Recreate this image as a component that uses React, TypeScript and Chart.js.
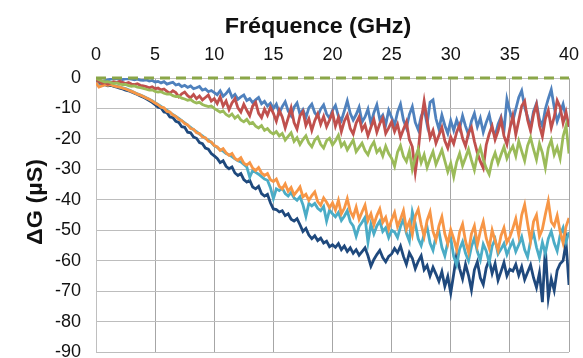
import React, { useEffect, useRef } from "react";
import { Chart, registerables } from "chart.js";

Chart.register(...registerables);

// Frequency sampling grid (GHz): 0 to 40 in 0.25 GHz steps
const FREQ_STEP = 0.25;

const xTicks = [0, 5, 10, 15, 20, 25, 30, 35, 40];
const yTicks = [0, -10, -20, -30, -40, -50, -60, -70, -80, -90];

const xTitle = "Fréquence (GHz)";
const yTitle = "ΔG (µS)";

const blueSeries = [
  0, -0.6, -1.1, -0.9, -0.6, -0.4, -0.3, -0.2, -0.4, -0.5, -0.3, -0.2, -0.4, -0.6, -0.4, -0.7, -0.8,
  -0.6, -1, -0.8, -1.3, -1.1, -1.6, -1.2, -2, -1.7, -1.4, -2.3, -2, -2.8, -2.4, -3.1, -2.6, -3.5, -3.2, -2.8, -4, -3.6, -4.5, -4.1, -4.8,
  -5.5, -4.2, -6, -5.1, -3.8, -6.3, -5.4, -7, -6.2, -5.6, -7.4, -6.8, -8.1, -7.2, -6.4, -8.5, -7.7, -9.2, -8.3, -10,
  -8.6, -11.5, -9.4, -7.8, -10.8, -12.4, -9.6, -8.2, -11.9, -10.4, -13, -9.8, -8.6, -11.4, -12.6, -10.2, -8.8, -11.8, -13.2, -10.6,
  -9, -12.5, -14, -10.8, -7.5, -11.6, -13.8, -12, -9.6, -14.5, -12.8, -10.2, -15, -11.4, -8.8, -13.6, -12.2, -15.4, -10.6, -13,
  -15.5, -11.2, -8.6, -13.8, -16.4, -12, -9.4, -14.6, -17, -12.6, -10.2, -15.2, -8, -7.2, -13.4, -16.8, -12.2, -15.6, -18.2, -14,
  -17.2, -13.8, -16.6, -12.4, -15.8, -18.6, -14.2, -11.6, -16, -13.2, -17.8, -14.6, -12, -16.8, -19, -15.2, -12.8, -17.4, -7, -11,
  -14, -10.2, -6.4, -4.2, -9.6, -12.8, -16.4, -11, -8.4, -13.6, -15.8, -10.2, -6.8, -3.8, -9.6, -14.2, -11.4, -8.6, -13, -16,
];

const redSeries = [
  -0.5, -1.2, -1.8, -1.5, -2, -1.6, -1.2, -1.5, -1.1, -1.4, -1.8, -1.5, -2, -2.2, -1.9, -2.4, -2.6,
  -2.8, -3.2, -2.9, -3.5, -3.3, -3.9, -3.6, -4.4, -5, -4.2, -4.8, -6.2, -5.2, -4.6, -5.8, -6.5, -5.4, -6.8, -5.9, -7.2, -6.4, -5.6, -7.6, -6.8,
  -8.4, -6.2, -9.2, -7.6, -10.4, -8.2, -6.8, -9.8, -11.2, -8.6, -10.6, -12.4, -9.2, -8, -11.6, -13, -10.2, -12.2, -9.6, -11.6,
  -14.2, -10.6, -12.8, -16.4, -13.2, -9.8, -14.6, -16.8, -12.4, -11, -15.6, -13.4, -17.2, -14, -11.8, -15.2, -12.6, -16, -13.8, -11.4,
  -15.8, -13, -17.6, -14.2, -12.2, -16.6, -18.4, -14.8, -12.8, -17, -15.4, -19, -16.2, -13.6, -17.8, -15, -13.2, -18.2, -16.4, -14.4,
  -17.6, -15.2, -19.4, -16.8, -14.4, -20.2, -22.6, -31, -24, -14.2, -7.6, -13.8, -19.6, -17.2, -21.4, -18.8, -16.2, -20.6, -23, -19.4,
  -21.6, -17.8, -15.4, -19.8, -22.4, -18, -16.2, -20.8, -24.6, -27.4, -29.6, -22, -18.4, -15.8, -20.2, -17.4, -13.6, -19, -21.8, -16.6,
  -12.4, -18.6, -14, -9.2, -7.6, -13.8, -17.4, -12, -8.8, -15.6, -19.2, -13.4, -10.6, -16.4, -12.8, -7.4, -9.6, -14.8, -11.2, -16,
];

const greenSeries = [
  -0.2, -0.6, -1, -1.3, -1.2, -1.5, -1.8, -1.6, -2, -2.2, -2.1, -2.5, -2.7, -2.6, -3, -3.2, -3.4,
  -3.7, -4, -3.9, -4.4, -4.6, -4.5, -5, -5.3, -5.2, -5.8, -6.1, -6, -6.6, -6.9, -7.3, -7.1, -7.8, -8.2, -8, -8.7, -9.1, -9.4, -9.2, -10,
  -10.6, -11.2, -10.8, -12, -12.6, -11.8, -13.2, -12.4, -13.8, -14.4, -13.6, -15, -14.6, -15.8, -16.4, -15.6, -17.2, -16.6, -17.8, -18.4,
  -17.6, -19, -18.2, -20.4, -19.2, -18, -20.8, -19.6, -21.8, -20.2, -19, -21.4, -22.6, -20.4, -19.4, -21.8, -23, -20.6, -19.8, -22,
  -20.6, -18.8, -22.4, -21.2, -23.6, -22, -20.4, -24.2, -22.8, -21.4, -23.8, -25.2, -22.6, -21, -24.4, -23.2, -25.6, -22.4, -24.8, -26.4,
  -29, -24.4, -22.2, -25.8, -27.4, -24, -30, -26.2, -23.4, -27.8, -25.2, -29.4, -26.6, -24.2, -28.4, -26, -23.6, -27.2, -30.8, -28,
  -32.4, -27.6, -24.8, -28.8, -26.2, -23.4, -27, -30.2, -25.4, -22.8, -26.8, -29.6, -31.6, -27.2, -24.6, -28, -25.2, -22.6, -26.4, -24.2,
  -22.4, -25.6, -20.8, -24, -27.2, -22.2, -19.6, -23.4, -26.8, -21.6, -24.6, -29.4, -23, -20.4, -25.2, -22.8, -26.4, -19.2, -15.6, -24.8,
];

const orangeSeries = [
  -1.5, -3, -2.6, -2.2, -2.4, -2.2, -2.6, -2.8, -3, -3.3, -3.6, -4, -4.4, -4.8, -5.3, -5.6, -6.1, -6.6, -7, -7.6, -8.2,
  -8.8, -9.6, -9.8, -11, -11.2, -12.2, -12.6, -13.6, -14, -15, -15.4, -16.6, -16.8, -18, -18.2, -19.4, -19.6, -20.8, -21, -22.2,
  -22.6, -23.8, -23.2, -24.6, -25.4, -24.8, -26.4, -27, -26.2, -28, -28.6, -27.8, -29.6, -30.4, -29.4, -31.2, -32, -31.4, -33.4, -34,
  -33.2, -35.6, -36.4, -34.8, -37.2, -36, -38.4, -37.2, -35.8, -39, -38.2, -40.2, -38.6, -37.4, -40.6, -41.8, -39.4, -40.8, -42.6, -41,
  -43.4, -40.2, -44.6, -42.8, -39.6, -43.8, -45.6, -42.4, -46.4, -44, -41.8, -46.8, -44.6, -48.2, -45.2, -43, -47.4, -45.8, -49.6, -46.6,
  -44.2, -48.8, -46.4, -43.6, -49.6, -47.2, -51.4, -45.4, -43.2, -48.2, -52, -46.8, -44, -50.4, -53.2, -48.6, -45.6, -51.2, -54.4, -49.8,
  -52.8, -56.4, -50.6, -48, -53.6, -57.2, -51.2, -48.6, -54.8, -50.4, -47.2, -52.6, -55.8, -50, -53.4, -56.6, -51.8, -49.2, -54, -52.2,
  -49.4, -46.2, -51.6, -45, -41.6, -47.8, -53.6, -47.2, -45, -52, -49.6, -44.8, -40.4, -47.2, -48.6, -45.2, -50.4, -54.2, -48.8, -46,
];

const cyanSeries = [
  -1.2, -2.6, -2.4, -2.1, -2.3, -2.1, -2.5, -2.7, -3, -3.2, -3.5, -3.9, -4.3, -4.8, -5.2, -5.6, -6, -6.5, -7, -7.5, -8.1,
  -8.7, -9.3, -10, -10.6, -11.3, -12, -12.6, -13.3, -14, -14.7, -15.5, -16.2, -17, -17.6, -18.4, -19, -19.8, -20.4, -21.2, -22.2,
  -22.8, -23.6, -24, -24.8, -25.2, -25.8, -26.6, -27.2, -27.6, -28.4, -29.2, -32.6, -30.4, -31, -31.6, -32.4, -33.2, -33.6, -36, -39.6,
  -36.4, -37, -36.2, -38, -38.8, -37.6, -39.4, -40.2, -39, -41.6, -45.4, -41.2, -42, -41.2, -42.8, -43.6, -42.2, -47, -43.4, -44.6,
  -45.6, -44.2, -46.8, -45.4, -43.6, -47.2, -48.6, -52, -48.8, -47.4, -45.8, -54, -48, -51.2, -48.6, -47, -50.4, -49.2, -52.4, -50,
  -50.6, -52.4, -48.8, -46.4, -51, -53.6, -44, -47.8, -52.8, -55, -51.4, -49, -54.2, -56.6, -52, -50.4, -55.6, -58.4, -54, -52.6,
  -58.6, -61.4, -56.2, -53.8, -57.6, -60, -55.4, -52.6, -57, -59.8, -54.6, -56.8, -60.6, -55.2, -53, -57.8, -56.2, -54.4, -58, -55.6,
  -53.6, -57, -54.8, -52.2, -56.4, -58.8, -53.4, -51, -55.6, -59, -54, -57.6, -52.8, -50.4, -54.2, -56.8, -51.6, -49.2, -53.8, -50.6,
];

const navySeries = [
  -1, -1.8, -2.4, -2.2, -2.6, -2.4, -2.8, -3, -3.3, -3.6, -4, -4.2, -4.6, -5, -5.4, -5.9, -6.3, -6.8, -7.4, -8, -8.8,
  -9.6, -9.8, -11.2, -11.4, -12.8, -13, -14.2, -14.6, -16, -16.2, -17.8, -18, -19.4, -19.8, -21.2, -21.6, -23, -23.4, -24.8, -25.6,
  -26.4, -27.8, -27.2, -29, -29.8, -29.2, -31.2, -32, -31.4, -33.4, -34.2, -33.6, -35.8, -36.4, -35.6, -38, -38.8, -38.2, -41, -43,
  -43.2, -44, -43.6, -45.2, -44.6, -46.4, -47, -46.2, -48.2, -50.4, -49.4, -51.6, -52.8, -51.8, -53.4, -52.6, -54.2, -53.6, -55.4, -54.8,
  -55.6, -54.4, -56.4, -55.2, -57, -55.8, -57.6, -56.4, -58.2, -57, -55.8, -58.4, -61.8, -59.6, -58, -56.6, -59, -60.4, -58.6, -57.8,
  -56, -57.4, -55.2, -58.6, -61.2, -57.4, -59.2, -62.6, -60.2, -58.4, -63, -61.6, -65, -62.2, -64.4, -66.8, -63.6, -68.4, -65.2, -70.6,
  -64.4, -58, -62.6, -66, -61.2, -64.8, -69.6, -63, -60.4, -65.6, -67.8, -62.4, -59.8, -64.2, -61, -66.4, -63.6, -60.6, -65, -62.8,
  -63.4, -61.2, -64.8, -62, -66.2, -63.8, -61.4, -65.6, -68.8, -64, -73.6, -56, -72.2, -66, -69.8, -63.2, -61, -60, -54, -68,
];

const referenceLine = [0, 0];
const referenceX = [0, 40];

const toPoints = (vals: number[]) => vals.map((v, i) => ({ x: i * FREQ_STEP, y: v }));

const FONT = '"Liberation Sans", Arial, Helvetica, sans-serif';

const titlePlugin = {
  id: "axisTitles",
  afterDraw(chart: any) {
    const { ctx, chartArea } = chart;
    ctx.save();
    ctx.fillStyle = "#111";
    ctx.font = `bold 22px ${FONT}`;
    ctx.textAlign = "center";
    ctx.textBaseline = "alphabetic";
    ctx.save();
    ctx.translate(chartArea.left + 222, 33);
    ctx.scale(1.06, 1);
    ctx.fillText(xTitle, 0, 0);
    ctx.restore();
    ctx.translate(41.5, chartArea.top + 124);
    ctx.rotate(-Math.PI / 2);
    ctx.scale(1.06, 1);
    ctx.fillText(yTitle, 0, 0);
    ctx.restore();
  },
};

export default function App() {
  const ref = useRef<HTMLCanvasElement | null>(null);

  useEffect(() => {
    if (!ref.current) return;
    const line = (data: number[], color: string, order: number) => ({
      data: toPoints(data),
      borderColor: color,
      backgroundColor: color,
      borderWidth: 2.8,
      pointRadius: 0,
      tension: 0,
      fill: false,
      order,
    });
    const chart = new Chart(ref.current, {
      type: "line",
      data: {
        datasets: [
          {
            data: referenceX.map((x, i) => ({ x, y: referenceLine[i] })),
            borderColor: "#8aa648",
            borderWidth: 3,
            borderDash: [10, 6],
            pointRadius: 0,
            fill: false,
            clip: false,
            order: 0,
          },
          line(blueSeries, "#4f81bd", 3),
          line(redSeries, "#c0504d", 2),
          line(greenSeries, "#9bbb59", 1),
          line(orangeSeries, "#f79646", 4),
          line(cyanSeries, "#4bacc6", 5),
          line(navySeries, "#1f497d", 6),
        ],
      },
      options: {
        animation: false,
        responsive: false,
        devicePixelRatio: 1,
        layout: { padding: { left: 0, right: 14, top: 0, bottom: 6 } },
        plugins: { legend: { display: false }, tooltip: { enabled: false }, title: { display: false } },
        scales: {
          x: {
            type: "linear",
            position: "top",
            min: 0,
            max: 40,
            afterBuildTicks: (scale: any) => {
              scale.ticks = xTicks.map((v) => ({ value: v }));
            },
            afterFit: (scale: any) => {
              scale.height = 78;
              scale.paddingLeft = 0;
              scale.paddingRight = 0;
            },
            ticks: {
              font: { family: FONT, size: 18 },
              color: "#111",
              padding: 12,
              maxRotation: 0,
            },
            grid: { color: "#a6a6a6", lineWidth: 1, drawTicks: false },
            border: { display: true, color: "#bfbfbf" },
          },
          y: {
            type: "linear",
            min: -90,
            max: 0,
            afterBuildTicks: (scale: any) => {
              scale.ticks = yTicks.map((v) => ({ value: v }));
            },
            afterFit: (scale: any) => {
              scale.width = 96;
              scale.paddingTop = 0;
              scale.paddingBottom = 0;
            },
            ticks: {
              font: { family: FONT, size: 18 },
              color: "#111",
              padding: 15,
            },
            grid: { color: "#bdbdbd", lineWidth: 1, drawTicks: false },
            border: { display: true, color: "#bfbfbf" },
          },
        },
      },
      plugins: [titlePlugin],
    } as any);
    return () => chart.destroy();
  }, []);

  return (
    <div style={{ position: "fixed", left: 0, top: 0, width: 583, height: 358, background: "#fff" }}>
      <canvas ref={ref} width={583} height={358} style={{ display: "block" }} />
    </div>
  );
}
